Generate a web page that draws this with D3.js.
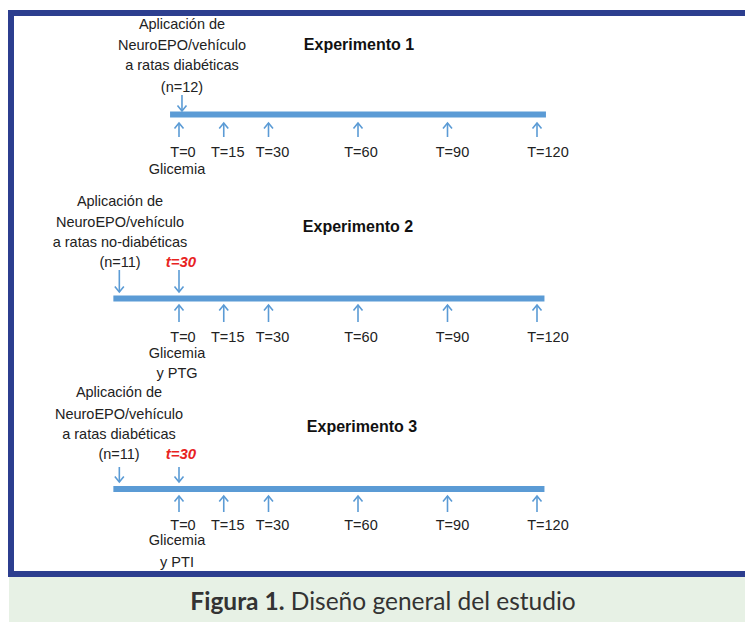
<!DOCTYPE html>
<html><head><meta charset="utf-8">
<script src="https://cdn.jsdelivr.net/npm/d3@7"></script>
<style>html,body{margin:0;padding:0;background:#fff;}svg{display:block;}</style>
</head><body>
<svg id="chart" width="745" height="622"></svg>
<script>
// ---- data ----
const timepoints = [0, 15, 30, 60, 90, 120];
const tickLabels = ["T=0", "T=15", "T=30", "T=60", "T=90", "T=120"];
const experiments = ["Experimento 1", "Experimento 2", "Experimento 3"];
const headerLines = [
  ["Aplicación de", "NeuroEPO/vehículo", "a ratas diabéticas"],
  ["Aplicación de", "NeuroEPO/vehículo", "a ratas no-diabéticas"],
  ["Aplicación de", "NeuroEPO/vehículo", "a ratas diabéticas"]
];
const sampleSizes = ["(n=12)", "(n=11)", "(n=11)"];
const applicationTime = [1, -20, -20];
const barStart = [-3, -22, -22];
const barEnd = [123, 122.5, 122.5];
const markerLabels = [null, "t=30", "t=30"];
const markerTime = [null, 0, 0];
const measureLines = [["Glicemia"], ["Glicemia", "y PTG"], ["Glicemia", "y PTI"]];
const captionBold = "Figura 1.";
const captionText = " Diseño general del estudio";

// ---- layout ----
const labelDx = [4, 4, 4, 3, 5, 11];
const layout = [
  {bar: 114.5, head: [29, 50, 70], n: 92, hx: 182, title: 50, tx: 359, downTop: 95, downBot: 111, upTop: 123, upBot: 137, tl: 157, meas: [174]},
  {bar: 298.5, head: [206, 227, 247], n: 267, hx: 120, title: 232, tx: 358, downTop: 270, downBot: 292, upTop: 305, upBot: 322, tl: 342, meas: [358, 378]},
  {bar: 489, head: [397, 419, 439], n: 459, hx: 119, title: 432, tx: 362, downTop: 467, downBot: 482, upTop: 496, upBot: 512, tl: 530, meas: [545, 567]}
];

const blue = "#5b9bd5", frame = "#2c3e8f";
const svg = d3.select("#chart");
const x = d3.scaleLinear().domain([0, 120]).range([179, 537]);

// caption background and frame
svg.append("rect").attr("x", 9).attr("y", 577).attr("width", 736).attr("height", 45).attr("fill", "#e7f1e5");
svg.append("rect").attr("x", 11).attr("y", 13).attr("width", 760).attr("height", 561)
  .attr("fill", "#fff").attr("stroke", frame).attr("stroke-width", 6);

function arrow(g, xp, y1, y2, dir) {
  g.append("line").attr("x1", xp).attr("x2", xp).attr("y1", y1).attr("y2", y2)
    .attr("stroke", blue).attr("stroke-width", 1.6);
  const hy = dir > 0 ? y2 : y1;
  const s = dir > 0 ? -1 : 1;
  g.append("path").attr("d", `M${xp - 4.5},${hy + s * 5.5}L${xp},${hy}L${xp + 4.5},${hy + s * 5.5}`)
    .attr("fill", "none").attr("stroke", blue).attr("stroke-width", 1.6);
}

const font = "'Liberation Sans', Arial, sans-serif";

experiments.forEach((name, i) => {
  const L = layout[i];
  const g = svg.append("g");
  headerLines[i].forEach((t, j) => {
    g.append("text").attr("x", L.hx).attr("y", L.head[j]).attr("text-anchor", "middle")
      .attr("font-family", font).attr("font-size", 14.5).attr("fill", "#222").text(t);
  });
  g.append("text").attr("x", L.hx).attr("y", L.n).attr("text-anchor", "middle")
    .attr("font-family", font).attr("font-size", 14.5).attr("fill", "#222").text(sampleSizes[i]);
  g.append("text").attr("x", L.tx).attr("y", L.title).attr("text-anchor", "middle")
    .attr("font-family", font).attr("font-size", 16).attr("font-weight", "bold").attr("fill", "#111").text(name);
  g.append("rect").attr("x", x(barStart[i])).attr("y", L.bar - 3)
    .attr("width", x(barEnd[i]) - x(barStart[i])).attr("height", 6).attr("fill", blue);
  arrow(g, x(applicationTime[i]), L.downTop, L.downBot, 1);
  if (markerLabels[i]) {
    g.append("text").attr("x", x(markerTime[i]) + 2).attr("y", L.n).attr("text-anchor", "middle")
      .attr("font-family", font).attr("font-size", 15).attr("font-weight", "bold").attr("font-style", "italic")
      .attr("fill", "#e8231f").text(markerLabels[i]);
    arrow(g, x(markerTime[i]), L.downTop, L.downBot, 1);
  }
  timepoints.forEach((t, k) => {
    arrow(g, x(t), L.upTop, L.upBot, -1);
    g.append("text").attr("x", x(t) + labelDx[k]).attr("y", L.tl).attr("text-anchor", "middle")
      .attr("font-family", font).attr("font-size", 14.5).attr("fill", "#222").text(tickLabels[k]);
  });
  measureLines[i].forEach((t, j) => {
    g.append("text").attr("x", x(0) - 2).attr("y", L.meas[j]).attr("text-anchor", "middle")
      .attr("font-family", font).attr("font-size", 14.5).attr("fill", "#222").text(t);
  });
});

const cap = svg.append("text").attr("x", 383).attr("y", 610).attr("text-anchor", "middle")
  .attr("font-family", "Lato, 'Open Sans', sans-serif").attr("font-size", 24.5).attr("fill", "#333");
cap.append("tspan").attr("font-weight", "bold").text(captionBold);
cap.append("tspan").text(captionText);
</script>
</body></html>
